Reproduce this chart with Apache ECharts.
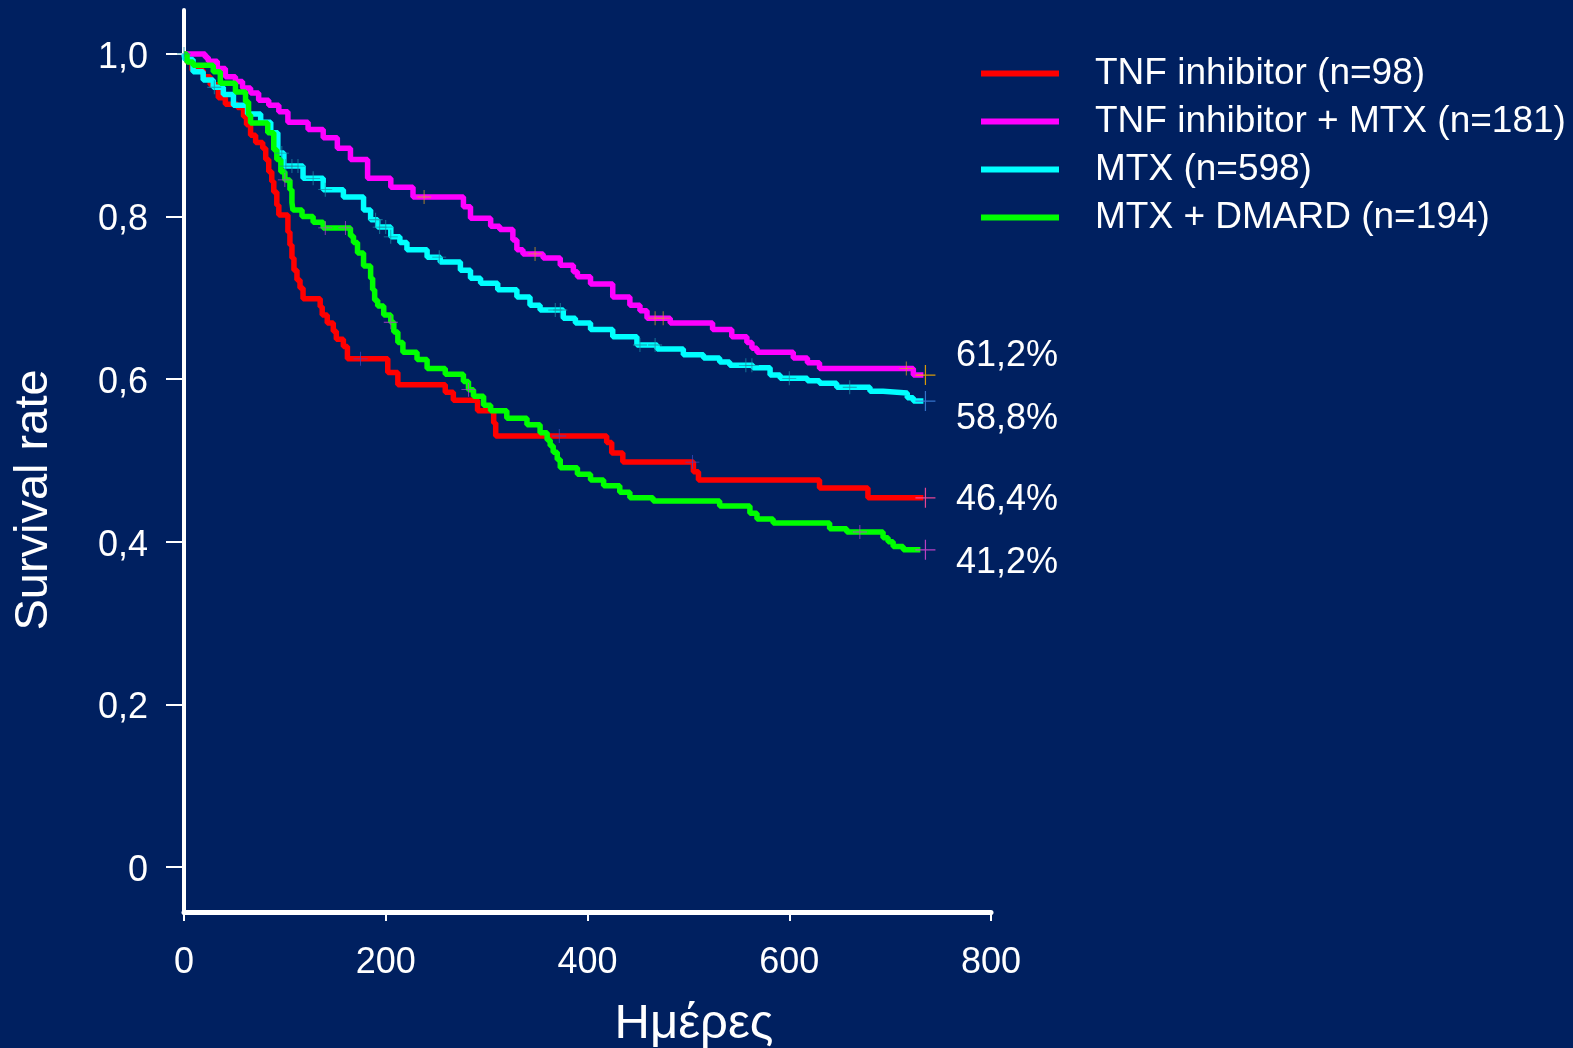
<!DOCTYPE html>
<html><head><meta charset="utf-8">
<script src="https://cdn.jsdelivr.net/npm/echarts@6/dist/echarts.min.js"></script>
<style>html,body{margin:0;padding:0;background:#002060}#c{width:1573px;height:1048px}</style>
</head><body><div id="c"></div>
<script>
// ---- data ----
const seriesNames = ['TNF inhibitor (n=98)', 'TNF inhibitor + MTX (n=181)', 'MTX (n=598)', 'MTX + DMARD (n=194)'];
const tnf = [[0,1.0],[3,0.990],[8,0.980],[19,0.972],[26,0.962],[34,0.946],[41,0.938],[53,0.934],[59,0.923],[62,0.913],[66,0.900],[71,0.891],[78,0.884],[81,0.870],[84,0.855],[87,0.843],[89,0.830],[92,0.814],[94,0.802],[103,0.781],[105,0.765],[107,0.749],[109,0.734],[112,0.722],[115,0.712],[118,0.699],[135,0.689],[137,0.679],[142,0.669],[148,0.659],[151,0.649],[158,0.640],[162,0.625],[202,0.608],[212,0.593],[259,0.584],[267,0.574],[291,0.561],[307,0.546],[309,0.530],[419,0.522],[424,0.509],[435,0.498],[505,0.486],[510,0.476],[630,0.466],[678,0.454],[733,0.454]];
const tnfMtx = [[0,1.0],[21,0.996],[24,0.991],[33,0.982],[41,0.972],[51,0.966],[58,0.958],[66,0.952],[74,0.943],[84,0.937],[94,0.929],[103,0.916],[123,0.907],[138,0.897],[152,0.884],[165,0.870],[182,0.847],[205,0.836],[227,0.824],[277,0.812],[284,0.798],[304,0.788],[313,0.784],[326,0.771],[330,0.759],[336,0.754],[356,0.749],[373,0.740],[386,0.732],[390,0.726],[403,0.717],[425,0.701],[442,0.691],[452,0.684],[459,0.675],[482,0.669],[524,0.661],[543,0.652],[558,0.645],[563,0.638],[568,0.633],[604,0.626],[618,0.620],[630,0.613],[723,0.605],[733,0.605]];
const mtx = [[0,1.0],[1,0.993],[9,0.978],[19,0.968],[29,0.959],[39,0.950],[49,0.937],[63,0.926],[76,0.916],[86,0.903],[93,0.878],[99,0.862],[118,0.847],[138,0.833],[158,0.824],[178,0.808],[185,0.796],[192,0.787],[205,0.775],[214,0.768],[221,0.759],[241,0.750],[254,0.744],[274,0.734],[284,0.724],[294,0.718],[311,0.710],[330,0.701],[343,0.691],[353,0.685],[376,0.675],[388,0.669],[403,0.661],[425,0.652],[449,0.642],[469,0.637],[495,0.630],[515,0.626],[531,0.621],[541,0.617],[564,0.614],[581,0.605],[591,0.601],[618,0.598],[630,0.595],[647,0.590],[680,0.585],[693,0.583],[717,0.577],[723,0.573],[733,0.573]];
const mtxDmard = [[0,1.0],[3,0.990],[9,0.986],[29,0.978],[36,0.964],[51,0.953],[61,0.941],[64,0.925],[66,0.915],[83,0.903],[89,0.882],[92,0.870],[96,0.855],[100,0.845],[105,0.833],[107,0.817],[108,0.808],[117,0.800],[128,0.793],[138,0.786],[165,0.776],[168,0.768],[172,0.755],[178,0.739],[185,0.724],[187,0.710],[189,0.697],[192,0.690],[198,0.679],[205,0.670],[208,0.658],[212,0.645],[217,0.633],[231,0.624],[241,0.613],[259,0.606],[277,0.597],[282,0.587],[287,0.579],[297,0.568],[304,0.561],[320,0.552],[340,0.544],[353,0.534],[360,0.525],[363,0.518],[366,0.510],[370,0.501],[373,0.491],[390,0.483],[403,0.476],[416,0.469],[432,0.461],[442,0.454],[465,0.450],[531,0.444],[561,0.435],[568,0.428],[584,0.423],[640,0.416],[657,0.412],[693,0.405],[698,0.400],[703,0.394],[713,0.390],[730,0.390]];
// censoring times (days)
const tnfCensor = [175, 372, 504, 735];
const tnfMtxCensor = [238, 348, 467, 475, 716, 735];
const mtxCensor = [0, 30, 97, 101, 107, 113, 128, 140, 190, 194, 200, 205, 253, 368, 373, 452, 467, 557, 563, 600, 660, 735];
const mtxDmardCensor = [100, 140, 160, 205, 282, 670, 735];
const endLabels = ['61,2%', '58,8%', '46,4%', '41,2%'];
const xTicks = [0, 200, 400, 600, 800];
const yTickValues = [0, 0.2, 0.4, 0.6, 0.8, 1.0];
const yTickLabels = ['0', '0,2', '0,4', '0,6', '0,8', '1,0'];
const xTitle = 'Ημέρες';
const yTitle = 'Survival rate';

// ---- chart ----
const FONT = '"Liberation Sans", Arial, sans-serif';
const lineColors = ['#ff0000', '#ff00ff', '#00ffff', '#00ff00'];
const censorColors = ['#3a48c0', '#d89a20', '#1a8fa8', '#b040c8'];
const endColors = ['#ff4a9a', '#f0a800', '#3a7bd5', '#cc44cc'];
const curves = [tnf, tnfMtx, mtx, mtxDmard];
const censors = [tnfCensor, tnfMtxCensor, mtxCensor, mtxDmardCensor];

function stepValue(data, day) {
  let v = data[0][1];
  for (const p of data) { if (p[0] <= day) v = p[1]; else break; }
  return v;
}
const crossPath = 'path://M-0.6,-10 L0.6,-10 L0.6,-0.6 L10,-0.6 L10,0.6 L0.6,0.6 L0.6,10 L-0.6,10 L-0.6,0.6 L-10,0.6 L-10,-0.6 L-0.6,-0.6 Z';

const series = [];
curves.forEach((d, i) => {
  series.push({
    name: seriesNames[i], type: 'line', step: 'end', data: d,
    showSymbol: false, symbol: 'none', color: lineColors[i],
    lineStyle: { width: 5.5, color: lineColors[i] }, z: 2 + i
  });
});
censors.forEach((c, i) => {
  series.push({
    type: 'scatter', silent: true, z: 10,
    data: c.map(t => [t, stepValue(curves[i], t)]),
    symbol: crossPath,
    symbolSize: (v) => v[0] >= 730 ? 20 : 14,
    itemStyle: { opacity: 0.9, color: (p) => p.data[0] >= 730 ? endColors[i] : censorColors[i] }
  });
});

const chart = echarts.init(document.getElementById('c'), null, { renderer: 'canvas' });
chart.setOption({
  animation: false,
  backgroundColor: '#002060',
  textStyle: { fontFamily: FONT },
  grid: { left: 184, width: 807, top: 10, bottom: 136, containLabel: false },
  legend: {
    data: seriesNames, orient: 'vertical', left: 976, top: 50,
    icon: 'rect', itemWidth: 78, itemHeight: 6, itemGap: 11,
    textStyle: { color: '#ffffff', fontSize: 37, fontFamily: FONT, lineHeight: 36, padding: [0, 0, 0, 31] },
    selectedMode: false
  },
  xAxis: {
    type: 'value', min: 0, max: 800, interval: 200,
    axisLine: { show: true, onZero: false, lineStyle: { color: '#ffffff', width: 5 } },
    axisTick: { show: true, inside: false, length: 9, lineStyle: { color: '#ffffff', width: 2 } },
    axisLabel: { color: '#ffffff', fontSize: 36, margin: 33, fontFamily: FONT,
      customValues: xTicks },
    splitLine: { show: false }
  },
  yAxis: {
    type: 'value', min: -0.0554, max: 1.054,
    axisLine: { show: true, onZero: false, lineStyle: { color: '#ffffff', width: 4 } },
    axisTick: { show: true, inside: false, length: 18, customValues: yTickValues, lineStyle: { color: '#ffffff', width: 2 } },
    axisLabel: { color: '#ffffff', fontSize: 36, margin: 36, fontFamily: FONT, verticalAlign: 'top', lineHeight: 8,
      customValues: yTickValues,
      formatter: (v) => { const k = yTickValues.findIndex(t => Math.abs(t - v) < 1e-6); return k >= 0 ? yTickLabels[k] : ''; } },
    splitLine: { show: false }
  },
  graphic: [
    { type: 'text', left: 956, top: 338, style: { text: endLabels[0], fill: '#fff', fontSize: 36, fontFamily: FONT } },
    { type: 'text', left: 956, top: 401, style: { text: endLabels[1], fill: '#fff', fontSize: 36, fontFamily: FONT } },
    { type: 'text', left: 956, top: 482, style: { text: endLabels[2], fill: '#fff', fontSize: 36, fontFamily: FONT } },
    { type: 'text', left: 956, top: 545, style: { text: endLabels[3], fill: '#fff', fontSize: 36, fontFamily: FONT } },
    { type: 'text', x: 694, y: 1024, style: { text: xTitle, fill: '#fff', fontSize: 49, fontFamily: FONT, textAlign: 'center', textVerticalAlign: 'middle' } },
    { type: 'text', x: 34, y: 500, rotation: Math.PI / 2, style: { text: yTitle, fill: '#fff', fontSize: 47, fontFamily: FONT, textAlign: 'center', textVerticalAlign: 'middle' } }
  ],
  series: series
});
</script>
</body></html>
